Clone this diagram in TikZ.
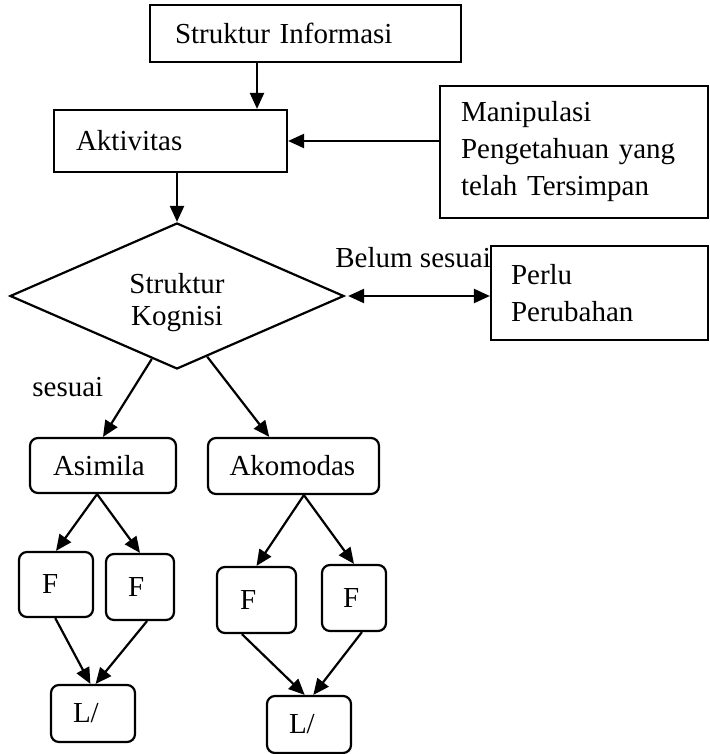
\documentclass[tikz,border=0pt]{standalone}
\usepackage{fontspec}
\setmainfont{Liberation Serif}
\usetikzlibrary{arrows.meta,shapes.geometric,calc}
\begin{document}
\begin{tikzpicture}[x=0.5pt,y=-0.5pt,
  every node/.style={font=\fontsize{14.5}{18.5}\selectfont},
  bx/.style={draw, line width=1.1pt, inner ysep=0pt, align=left, anchor=center},
  rbx/.style={bx, rounded corners=4pt},
  arr/.style={line width=1.1pt, -{Triangle[length=8pt,width=7pt]}},
  darr/.style={line width=1.1pt, {Triangle[length=8pt,width=7pt]}-{Triangle[length=8pt,width=7pt]}},
  lbl/.style={inner sep=0pt, anchor=base west}]
\useasboundingbox (0,0) rectangle (710,754);

% boxes
\node[bx, minimum width=155.5pt, minimum height=28.5pt, inner xsep=12.5pt, text width=130.5pt] (si) at (305.5,33.5) {Struktur Informasi};
\node[bx, minimum width=116.5pt, minimum height=31pt, inner xsep=11pt, text width=94.5pt] (akt) at (170.5,141) {Aktivitas};
\node[bx, minimum width=134pt, minimum height=66pt, inner xsep=10.5pt, text width=113pt] (man) at (574,152) {Manipulasi\\Pengetahuan yang\\telah Tersimpan};
\node[bx, minimum width=108.5pt, minimum height=47pt, inner xsep=10pt, text width=88.5pt] (perlu) at (599.5,293) {Perlu\\Perubahan};
\node[draw, line width=1.1pt, shape=diamond, aspect=2.3, inner sep=0pt, minimum width=167pt, minimum height=73pt] (dia) at (177,296) {\raisebox{-14.5pt}[0pt][0pt]{\begin{tabular}[b]{@{}c@{}}Struktur\\[-2.5pt]Kognisi\end{tabular}}};

\node[rbx, minimum width=73pt, minimum height=27.5pt, inner xsep=11.5pt, text width=50pt] (asim) at (103,465.5) {Asimila};
\node[rbx, minimum width=85.5pt, minimum height=28pt, inner xsep=10.75pt, text width=64pt] (akom) at (293.5,466) {Akomodas};

\node[rbx, minimum width=37pt, minimum height=32.5pt, inner xsep=11.5pt, text width=14pt] (f1) at (56,584.5) {F};
\node[rbx, minimum width=34pt, minimum height=33pt, inner xsep=11pt, text width=12pt] (f2) at (140,587) {F};
\node[rbx, minimum width=39.5pt, minimum height=33pt, inner xsep=11.5pt, text width=16.5pt] (f3) at (256.5,600) {F};
\node[rbx, minimum width=32pt, minimum height=33pt, inner xsep=10.5pt, text width=11pt] (f4) at (354,598) {F};

\node[rbx, minimum width=42pt, minimum height=28.5pt, inner xsep=11pt, text width=20pt] (l1) at (93,713.5) {L/};
\node[rbx, minimum width=42pt, minimum height=28.5pt, inner xsep=11pt, text width=20pt] (l2) at (309,724.5) {L/};

% labels
\node[lbl] (belum) at (335,267) {Belum sesuai};
\node[lbl] (sesuai) at (32,396) {sesuai};

% connectors
\coordinate (c1) at (257,0);
\draw[arr] (si.south -| c1) -- (akt.north -| c1);
\draw[arr] (dia.north |- akt.south) -- (dia.north);
\draw[arr] (akt.east -| man.west) -- (akt.east);
\draw[darr, shorten <=1.5pt] (dia.east) -- (dia.east -| perlu.west);
\draw[arr] ($(dia.west)!0.85!(dia.south)$) -- (asim.north);
\draw[arr] ($(dia.east)!0.82!(dia.south)$) -- ($(akom.north west)!0.36!(akom.north east)$);
\draw[arr] ($(asim.south west)!0.46!(asim.south east)$) -- (f1.north);
\draw[arr] ($(asim.south west)!0.46!(asim.south east)$) -- (f2.north);
\draw[arr] ($(akom.south west)!0.56!(akom.south east)$) -- (f3.north);
\draw[arr] ($(akom.south west)!0.56!(akom.south east)$) -- (f4.north);
\draw[arr] ($(f1.south west)!0.49!(f1.south east)$) -- ($(l1.north west)!0.47!(l1.north east)$);
\draw[arr] ($(f2.south west)!0.6!(f2.south east)$) -- ($(l1.north west)!0.53!(l1.north east)$);
\draw[arr] ($(f3.south west)!0.32!(f3.south east)$) -- ($(l2.north west)!0.45!(l2.north east)$);
\draw[arr] ($(f4.south west)!0.62!(f4.south east)$) -- ($(l2.north west)!0.55!(l2.north east)$);
\end{tikzpicture}
\end{document}
